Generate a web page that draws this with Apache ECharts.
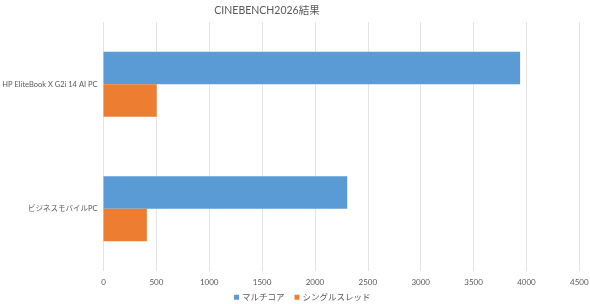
<!DOCTYPE html>
<html>
<head>
<meta charset="utf-8">
<script src="https://cdn.jsdelivr.net/npm/echarts@6/dist/echarts.min.js"></script>
<style>
  html, body { margin: 0; padding: 0; background: #fff; }
  #chart { width: 590px; height: 304px; }
</style>
</head>
<body>
<div id="chart"></div>
<script>
// data
const categories = ['HP EliteBook X G2i 14 AI PC', 'ビジネスモバイルPC'];
const seriesNames = ['マルチコア', 'シングルスレッド'];
const multiCore = [3940, 2305];
const singleThread = [503, 410];
const xTicks = [0, 500, 1000, 1500, 2000, 2500, 3000, 3500, 4000, 4500];

const fontFamily = 'Lato, "Noto Sans CJK JP", sans-serif';
const textColor = '#595959';
const colors = ['#5B9BD5', '#ED7D31'];

const chart = echarts.init(document.getElementById('chart'), null, { renderer: 'canvas' });

const option = {
  backgroundColor: '#fff',
  animation: false,
  color: colors,
  textStyle: { fontFamily, color: textColor },
  title: {
    text: 'CINEBENCH2026結果',
    left: 262, top: 0, textAlign: 'center',
    textStyle: { fontSize: 10.5, fontWeight: 'normal', color: textColor, fontFamily }
  },
  legend: {
    data: seriesNames,
    left: 229, top: 288,
    icon: 'rect', itemWidth: 5, itemHeight: 5, itemGap: 10,
    textStyle: { fontSize: 8.5, color: textColor, fontFamily, padding: [0, 0, 0, -2] }
  },
  grid: { left: 103.5, right: 10.7, top: 22, bottom: 33, containLabel: false, outerBoundsMode: 'none' },
  xAxis: {
    type: 'value', min: xTicks[0], max: xTicks[xTicks.length - 1], interval: 500,
    axisLine: { show: false }, axisTick: { show: false },
    axisLabel: { fontSize: 8, color: textColor, margin: 7, fontFamily, formatter: v => String(v) },
    splitLine: { show: true, lineStyle: { color: '#e3e3e3', width: 1 } }
  },
  yAxis: {
    type: 'category', data: categories, inverse: true,
    axisLine: { show: false }, axisTick: { show: false },
    axisLabel: { fontSize: 7.5, color: textColor, margin: 6, fontFamily, overflow: 'none', width: 120 }
  },
  series: [
    { name: seriesNames[0], type: 'bar', data: multiCore, barWidth: 32.6, barGap: '0%' },
    { name: seriesNames[1], type: 'bar', data: singleThread, barWidth: 32.6, barGap: '0%' }
  ]
};

chart.setOption(option);
</script>
</body>
</html>
